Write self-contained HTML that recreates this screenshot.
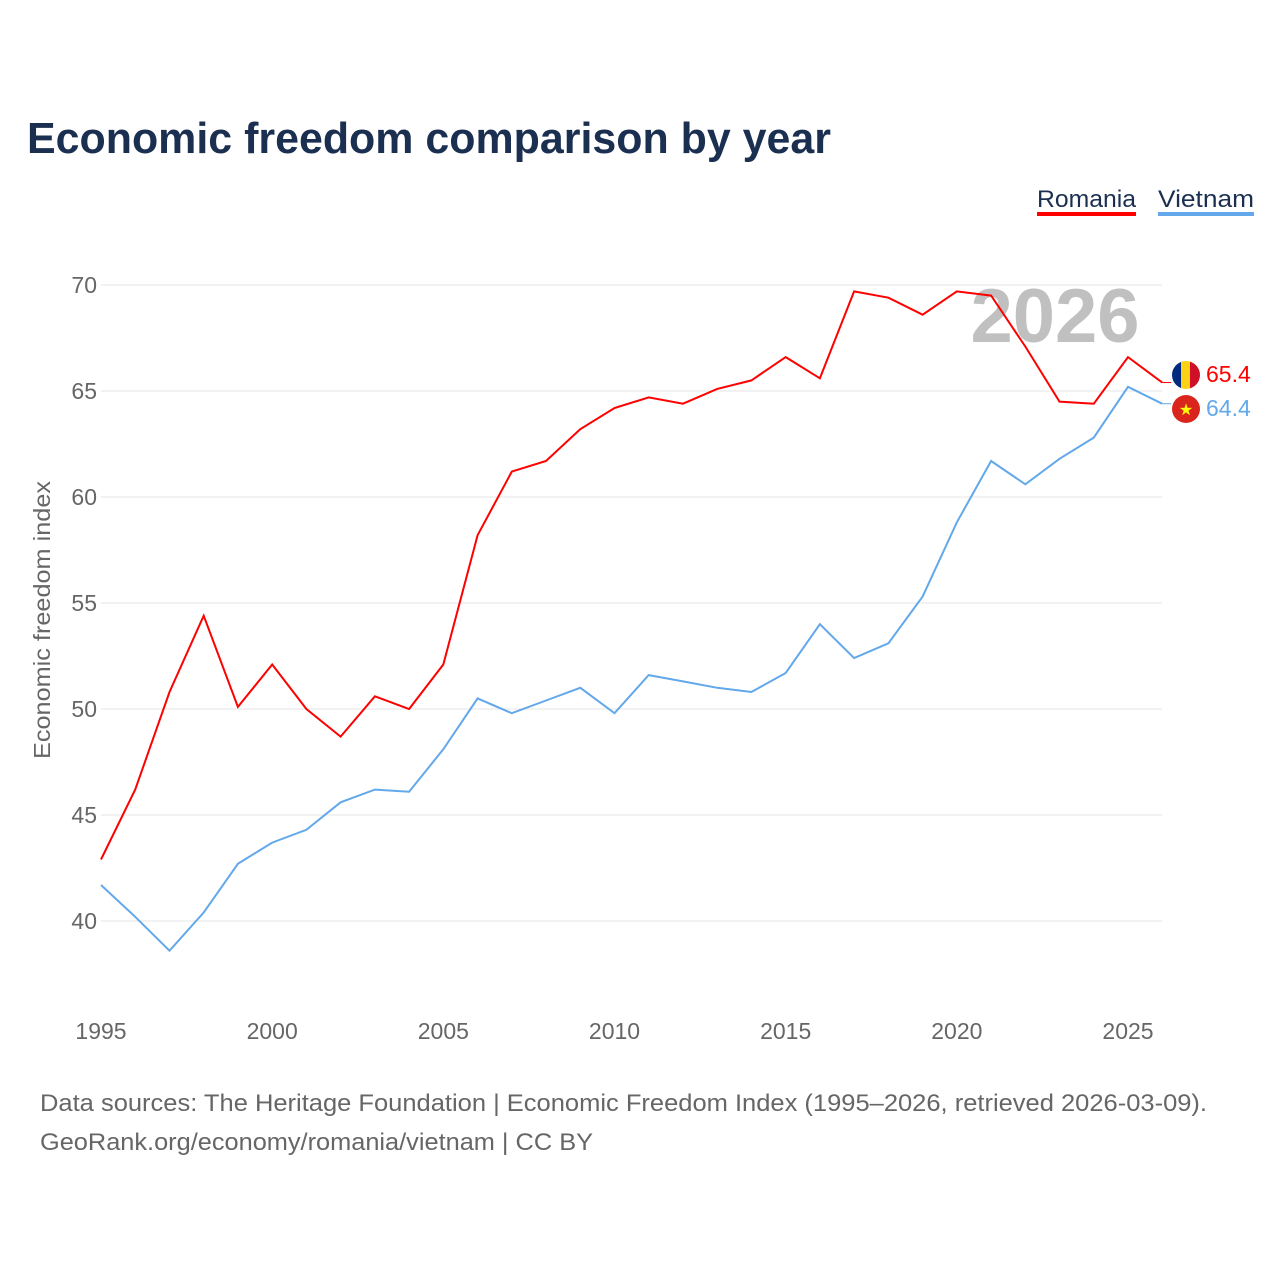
<!DOCTYPE html>
<html><head><meta charset="utf-8">
<style>
body{margin:0;background:#fff;font-family:"Liberation Sans",sans-serif;}
svg text{font-family:"Liberation Sans",sans-serif;}
</style></head>
<body>
<svg id="chart" width="1280" height="1280" xmlns="http://www.w3.org/2000/svg">
<text x="27" y="153" font-size="44" font-weight="bold" fill="#1b2f50" textLength="804" lengthAdjust="spacingAndGlyphs">Economic freedom comparison by year</text>
<g>
<text x="1037" y="207" font-size="24" fill="#1b2f50" textLength="99" lengthAdjust="spacingAndGlyphs">Romania</text>
<rect x="1037" y="212" width="99" height="4" fill="#ff0000"/>
<text x="1158" y="207" font-size="24" fill="#1b2f50" textLength="96" lengthAdjust="spacingAndGlyphs">Vietnam</text>
<rect x="1158" y="212" width="96" height="4" fill="#62a8ea"/>
</g>
<g id="grid"></g>
<text x="1055" y="342" font-size="76" font-weight="bold" fill="#c0c0c0" text-anchor="middle">2026</text>
<text transform="translate(50,620) rotate(-90)" font-size="23" fill="#666" text-anchor="middle" textLength="278" lengthAdjust="spacingAndGlyphs">Economic freedom index</text>
<g id="series"></g>
<g id="xt"></g>
<g>
<clipPath id="c1"><circle cx="1186" cy="375" r="14"/></clipPath>
<g clip-path="url(#c1)"><rect x="1172" y="361" width="10" height="28" fill="#002b7f"/><rect x="1181" y="361" width="10" height="28" fill="#fcd116"/><rect x="1190" y="361" width="10" height="28" fill="#ce1126"/></g>
<circle cx="1186" cy="409" r="14" fill="#da251d"/>
<text x="1186" y="415" font-size="16" fill="#ffff00" text-anchor="middle">★</text>
</g>
<text x="40" y="1111" font-size="24" fill="#666" textLength="1167" lengthAdjust="spacingAndGlyphs">Data sources: The Heritage Foundation | Economic Freedom Index (1995–2026, retrieved 2026-03-09).</text>
<text x="40" y="1150" font-size="24" fill="#666" textLength="553" lengthAdjust="spacingAndGlyphs">GeoRank.org/economy/romania/vietnam | CC BY</text>
</svg>
<script>
const years=[1995,1996,1997,1998,1999,2000,2001,2002,2003,2004,2005,2006,2007,2008,2009,2010,2011,2012,2013,2014,2015,2016,2017,2018,2019,2020,2021,2022,2023,2024,2025,2026];
const romania=[42.9,46.2,50.8,54.4,50.1,52.1,50.0,48.7,50.6,50.0,52.1,58.2,61.2,61.7,63.2,64.2,64.7,64.4,65.1,65.5,66.6,65.6,69.7,69.4,68.6,69.7,69.5,67.1,64.5,64.4,66.6,65.4];
const vietnam=[41.7,40.2,38.6,40.4,42.7,43.7,44.3,45.6,46.2,46.1,48.1,50.5,49.8,50.4,51.0,49.8,51.6,51.3,51.0,50.8,51.7,54.0,52.4,53.1,55.3,58.8,61.7,60.6,61.8,62.8,65.2,64.4];
const yTicks=[40,45,50,55,60,65,70];
const xTicks=[1995,2000,2005,2010,2015,2020,2025];
const NS="http://www.w3.org/2000/svg";
const x=v=>101+(v-1995)*(1128-101)/30;
const y=v=>921-(v-40)*(921-285)/30;
function mk(tag,attrs,parent){const e=document.createElementNS(NS,tag);for(const k in attrs)e.setAttribute(k,attrs[k]);parent.appendChild(e);return e;}
const grid=document.getElementById('grid');
yTicks.forEach(t=>{
  const l=mk('line',{x1:101,x2:1162,y1:y(t),y2:y(t),stroke:'#e6e6e6','stroke-width':1},grid);
  
  
  const tx=mk('text',{x:97,y:y(t)+8,'font-size':23,fill:'#666','text-anchor':'end'},grid);
  tx.textContent=t;
  
  
});
const xt=document.getElementById('xt');
xTicks.forEach(t=>{
  const tx=mk('text',{x:x(t),y:1039,'font-size':23,fill:'#666','text-anchor':'middle'},xt);
  tx.textContent=t;
  
  
});
const s=document.getElementById('series');
function line(data,color,name){
  const p=mk('path',{d:data.map((v,i)=>(i?'L':'M')+x(years[i]).toFixed(1)+','+y(v).toFixed(1)).join(''),fill:'none',stroke:color,'stroke-width':2},s);
  
  
  const last=data[data.length-1];
  const c=mk('path',{d:`M${x(2026)},${y(last)} h3 V${y(last)} h6`,fill:'none',stroke:color,'stroke-width':1},s);
  
  
  const t=mk('text',{x:1206,y:0,'font-size':23,fill:color},s);
  t.textContent=last.toFixed(1);
  
  
  return t;
}
const rl=line(romania,'#ff0000','romania');
const vl=line(vietnam,'#62a8ea','vietnam');
rl.setAttribute('y',382);
vl.setAttribute('y',416);
</script>
</body></html>
